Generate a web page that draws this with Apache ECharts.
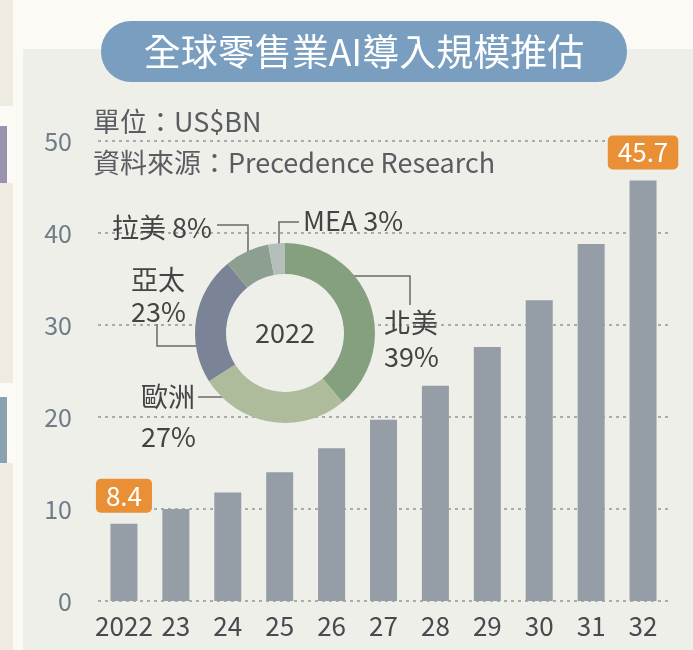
<!DOCTYPE html>
<html>
<head>
<meta charset="utf-8">
<script src="https://cdn.jsdelivr.net/npm/echarts@6/dist/echarts.min.js"></script>
<style>
  html, body { margin: 0; padding: 0; background: #fbfaf4; }
  .page { position: relative; width: 693px; height: 650px; overflow: hidden; }
  .bg { position: absolute; }
  .chart { position: absolute; left: 0; top: 0; width: 693px; height: 650px; }
</style>
</head>
<body>
<div class="page">
  <!-- bits of the neighbouring page on the left edge -->
  <div class="bg" style="left:0;top:0;width:13px;height:106px;background:#efebe1"></div>
  <div class="bg" style="left:0;top:126px;width:7px;height:57px;background:#9b92ad"></div>
  <div class="bg" style="left:0;top:183px;width:13px;height:200px;background:#efebe1"></div>
  <div class="bg" style="left:0;top:397px;width:7px;height:66px;background:#8aa2ae"></div>
  <div class="bg" style="left:0;top:463px;width:13px;height:187px;background:#efebe1"></div>
  <div class="bg" style="left:23px;top:49px;width:670px;height:601px;background:#efefe9"></div>
  <div class="chart" id="chart"></div>
</div>
<script>
  // 全球零售業AI導入規模 (US$BN)
  var years = ['2022', '23', '24', '25', '26', '27', '28', '29', '30', '31', '32'];
  var market = [8.4, 10.0, 11.8, 14.0, 16.6, 19.7, 23.4, 27.6, 32.7, 38.8, 45.7];
  var yTicks = [0, 10, 20, 30, 40, 50];

  // 2022 地區占比 (%)
  var regions = ['北美', '歐洲', '亞太', '拉美', 'MEA'];
  var shares = [39, 27, 23, 8, 3];
  var regionColors = ['#85a07f', '#afbc9c', '#7b8397', '#8d9f90', '#b4bfbb'];

  var FONT = '"Noto Sans CJK TC", "Noto Sans", sans-serif';

  // where each donut label sits, and its leader line
  var pieLabels = [
    { x: 384, y: 340, lh: 34, line: [[330, 276], [410, 276], [410, 305]] },
    { x: 141, y: 417, lh: 40, line: [[246, 397], [198, 397]] },
    { x: 131, y: 296, lh: 32, line: [[218, 346], [157, 346], [157, 324]] },
    { x: 112, y: 228, lh: 28, line: [[248, 265], [248, 225], [217, 225]] },
    { x: 303, y: 221, lh: 28, line: [[279, 257], [279, 222], [299, 222]] }
  ];

  var chart = echarts.init(document.getElementById('chart'));
  var last = market.length - 1;

  var option = {
    animation: false,
    textStyle: { fontFamily: FONT },
    graphic: [
      {
        type: 'rect',
        shape: { x: 101, y: 21, width: 526, height: 61, r: 30 },
        style: { fill: '#7a9ec0' }
      },
      {
        type: 'text',
        x: 364, y: 52,
        style: {
          text: '全球零售業AI導入規模推估',
          fill: '#fff', font: '37px ' + FONT,
          align: 'center', verticalAlign: 'middle'
        }
      },
      {
        type: 'text',
        x: 93, y: 122,
        style: {
          text: '單位：US$BN',
          fill: '#595c61', font: '27px ' + FONT, verticalAlign: 'middle'
        }
      },
      {
        type: 'text',
        x: 93, y: 163,
        style: {
          text: '資料來源：Precedence Research',
          fill: '#595c61', font: '27px ' + FONT, verticalAlign: 'middle'
        }
      }
    ],
    grid: { left: 98, right: 24, top: 141, bottom: 49 },
    xAxis: {
      type: 'category',
      data: years,
      axisLine: { show: false },
      axisTick: { show: false },
      axisLabel: { color: '#474a4f', fontSize: 26, margin: 12, interval: 0 }
    },
    yAxis: {
      type: 'value',
      min: yTicks[0],
      max: yTicks[yTicks.length - 1],
      interval: 10,
      axisLine: { show: false },
      axisTick: { show: false },
      axisLabel: { color: '#6f7c8a', fontSize: 25, margin: 26 },
      splitLine: { lineStyle: { color: '#a9abad', width: 2, type: [3, 4] } }
    },
    series: [
      {
        type: 'bar',
        barWidth: 27,
        itemStyle: { color: '#959da6' },
        label: {
          show: false,
          position: 'top',
          distance: 11,
          color: '#fff',
          fontSize: 26,
          backgroundColor: '#e98f36',
          borderRadius: 5,
          padding: [4, 10]
        },
        data: market.map(function (v, i) {
          return (i === 0 || i === last) ? { value: v, label: { show: true } } : v;
        })
      },
      {
        // fills the hole of the donut so the grid lines stay behind it
        type: 'pie',
        silent: true,
        center: [285, 333],
        radius: [0, 59],
        itemStyle: { color: '#efefe9' },
        label: {
          show: true, position: 'center',
          formatter: years[0], color: '#444', fontSize: 27
        },
        labelLine: { show: false },
        data: [{ value: 1, name: years[0] }]
      },
      {
        type: 'pie',
        silent: true,
        center: [285, 333],
        radius: [59, 90],
        startAngle: 90,
        clockwise: true,
        color: regionColors,
        data: regions.map(function (n, i) {
          return { name: n, value: shares[i], label: { lineHeight: pieLabels[i].lh } };
        }),
        label: {
          color: '#444',
          fontSize: 27,
          formatter: function (p) {
            return p.dataIndex < 3 ? p.name + '\n' + p.value + '%' : p.name + ' ' + p.value + '%';
          }
        },
        labelLine: { show: true, lineStyle: { color: '#6a6a6a', width: 1.5 } },
        labelLayout: function (p) {
          var l = pieLabels[p.dataIndex];
          return {
            x: l.x, y: l.y,
            align: 'left', verticalAlign: 'middle',
            labelLinePoints: l.line
          };
        }
      }
    ]
  };

  chart.setOption(option);
</script>
</body>
</html>
